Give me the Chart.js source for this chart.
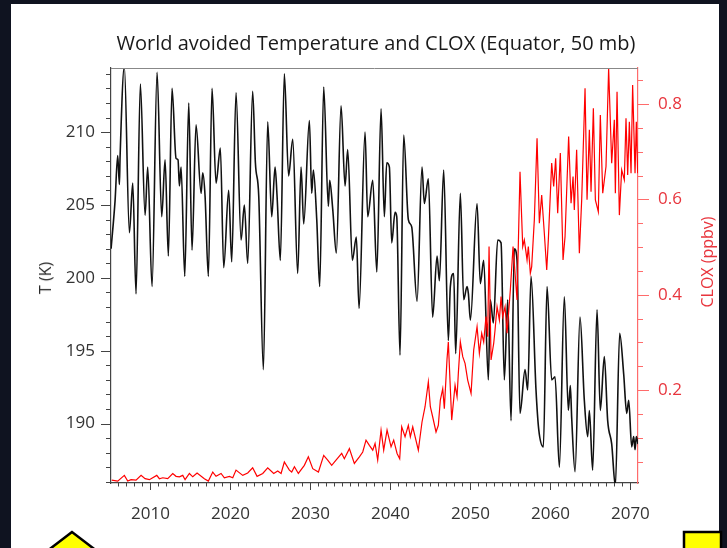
<!DOCTYPE html>
<html>
<head>
<meta charset="utf-8">
<title>World avoided Temperature and CLOX</title>
<script src="https://cdn.jsdelivr.net/npm/chart.js"></script>
<style>
  html, body { margin: 0; padding: 0; background: #0f1320; }
  #wrap { position: relative; width: 727px; height: 548px; overflow: hidden; }
  #panel { position: absolute; left: 11px; top: 4px; width: 708px; height: 560px; background: #fff; }
  #chart { position: absolute; left: 0; top: 0; }
  .txt { position: absolute; font-family: "Open Sans", sans-serif; white-space: nowrap; }
  #title { left: 0; width: 752px; top: 29px; text-align: center; font-size: 20px; color: #1a1a1a; }
  #ylab { left: 45px; top: 278px; font-size: 16px; color: #2a2a2a; transform: translate(-50%, -50%) rotate(-90deg); }
  #y1lab { left: 707px; top: 262px; font-size: 16px; color: #e8353d; transform: translate(-50%, -50%) rotate(-90deg); }
  svg { position: absolute; left: 0; top: 0; }
</style>
</head>
<body>
<div id="wrap">
  <div id="panel"></div>
  <canvas id="chart" width="727" height="548"></canvas>
  <div class="txt" id="title">World avoided Temperature and CLOX (Equator, 50 mb)</div>
  <div class="txt" id="ylab">T (K)</div>
  <div class="txt" id="y1lab">CLOX (ppbv)</div>
  <svg width="727" height="548">
    <polygon points="72,532 38,558 106,558" fill="#ffff00" stroke="#000" stroke-width="2.5"/>
    <rect x="684" y="532" width="37" height="30" fill="#ffff00" stroke="#000" stroke-width="2.5"/>
  </svg>
</div>
<script>
// temperature at turning points (year, K)
const tempYears = [2005.08, 2005.58, 2005.91, 2006.12, 2006.2, 2006.74, 2007.37, 2007.79, 2008.2, 2008.74,
  2009.33, 2009.66, 2010.2, 2010.83, 2011.41, 2011.83, 2012.24, 2012.7, 2013.2, 2013.45,
  2013.62, 2013.83, 2014.29, 2014.79, 2015.2, 2015.7, 2016.33, 2016.54, 2016.83, 2017.24,
  2017.7, 2018.2, 2018.74, 2019.16, 2019.78, 2020.16, 2020.7, 2021.33, 2021.74, 2022.16,
  2022.78, 2023.12, 2023.54, 2024.12, 2024.66, 2025.16, 2025.58, 2025.83, 2026.24, 2026.74,
  2027.27, 2027.79, 2028.41, 2028.83, 2029.16, 2029.87, 2030.16, 2030.37, 2030.79, 2031.16,
  2031.66, 2032.24, 2032.41, 2032.79, 2033.24, 2033.83, 2034.33, 2034.66, 2035.24, 2035.74,
  2036.08, 2036.83, 2037.16, 2037.79, 2038.3, 2038.83, 2039.24, 2039.54, 2039.87, 2040.16,
  2040.58, 2040.79, 2041.2, 2041.66, 2042.24, 2042.66, 2043.33, 2043.95, 2044.24, 2044.74,
  2045.28, 2045.83, 2046.12, 2046.66, 2047.24, 2047.49, 2047.91, 2048.16, 2048.74, 2049.16,
  2049.58, 2049.75, 2050.0, 2050.83, 2051.24, 2051.66, 2052.24, 2052.49, 2052.87, 2053.41,
  2053.83, 2054.24, 2054.66, 2055.08, 2055.49, 2055.83, 2056.2, 2056.83, 2057.16, 2057.58,
  2058.2, 2058.54, 2059.12, 2059.58, 2060.16, 2060.58, 2061.12, 2061.74, 2062.24, 2062.49,
  2062.66, 2063.08, 2063.7, 2064.24, 2064.66, 2064.87, 2065.28, 2065.83, 2066.24, 2066.74,
  2067.16, 2067.66, 2068.12, 2068.66, 2069.16, 2069.54, 2069.79, 2070.16, 2070.41, 2070.58,
  2070.74, 2070.95];
const tempValues = [202.0, 205.3, 208.4, 206.4, 208.2, 214.5, 203.1, 206.5, 198.9, 213.3,
  204.3, 207.6, 199.4, 214.1, 204.2, 208.1, 201.5, 213.0, 208.2, 208.1,
  206.3, 207.6, 200.1, 212.0, 201.9, 210.5, 205.8, 207.2, 205.6, 200.1,
  213.0, 206.5, 208.9, 200.7, 206.0, 201.1, 212.7, 202.6, 205.0, 201.0,
  212.8, 207.9, 205.6, 193.7, 210.7, 204.2, 207.6, 205.6, 201.2, 214.0,
  207.0, 209.5, 200.3, 207.6, 203.7, 210.8, 205.8, 207.4, 204.0, 199.4,
  213.1, 204.9, 206.7, 204.7, 201.7, 211.8, 206.3, 208.8, 201.2, 202.8,
  197.9, 210.0, 204.2, 206.7, 200.4, 211.6, 204.2, 207.9, 207.6, 202.4,
  204.5, 204.2, 194.7, 209.8, 204.0, 203.5, 198.4, 207.6, 205.1, 206.8,
  197.3, 201.5, 199.8, 207.4, 195.7, 199.4, 200.3, 194.8, 205.8, 198.5,
  199.4, 198.9, 197.1, 205.1, 199.6, 201.2, 193.0, 198.5, 196.9, 202.6,
  202.4, 193.0, 198.5, 190.2, 202.0, 201.2, 190.7, 193.7, 192.3, 200.1,
  192.3, 189.6, 188.4, 199.4, 193.0, 193.2, 187.0, 198.7, 190.9, 192.6,
  190.4, 186.7, 197.3, 191.6, 189.1, 190.9, 186.8, 197.8, 190.9, 194.6,
  190.2, 188.6, 185.7, 196.2, 193.4, 190.7, 191.6, 188.4, 189.1, 188.2,
  189.1, 188.6];

// CLOX mixing ratio (year, ppbv)
const cloxYears = [2005.16, 2005.91, 2006.74, 2007.16, 2007.58, 2008.2, 2008.83, 2009.33, 2009.87, 2010.79,
  2011.12, 2011.54, 2012.16, 2012.79, 2013.2, 2013.62, 2014.04, 2014.33, 2014.87, 2015.29,
  2015.83, 2016.74, 2017.24, 2017.79, 2018.2, 2018.83, 2019.24, 2019.87, 2020.29, 2020.7,
  2021.54, 2022.16, 2022.78, 2023.33, 2024.04, 2024.66, 2025.41, 2025.91, 2026.33, 2026.74,
  2027.37, 2027.66, 2028.0, 2028.49, 2029.24, 2029.74, 2030.29, 2031.0, 2031.66, 2032.16,
  2032.66, 2033.2, 2033.91, 2034.24, 2034.87, 2035.49, 2036.12, 2036.54, 2036.95, 2037.37,
  2037.79, 2038.08, 2038.41, 2038.83, 2039.16, 2039.58, 2040.08, 2040.41, 2040.83, 2041.16,
  2041.41, 2041.83, 2042.24, 2042.49, 2042.79, 2043.49, 2043.95, 2044.33, 2044.74, 2044.99,
  2045.28, 2045.7, 2045.99, 2046.24, 2046.54, 2046.74, 2047.08, 2047.24, 2047.66, 2048.08,
  2048.33, 2048.49, 2048.74, 2049.04, 2049.33, 2049.66, 2050.08, 2050.41, 2050.83, 2051.12,
  2051.41, 2051.66, 2051.95, 2052.16, 2052.33, 2052.58, 2052.91, 2053.08, 2053.33, 2053.62,
  2053.83, 2054.04, 2054.33, 2054.58, 2054.99, 2055.33, 2055.83, 2056.2, 2056.54, 2056.74,
  2057.08, 2057.24, 2057.49, 2057.66, 2057.99, 2058.33, 2058.62, 2058.91, 2059.24, 2059.54,
  2059.74, 2060.16, 2060.41, 2060.66, 2060.91, 2061.24, 2061.58, 2061.83, 2062.28, 2062.58,
  2062.83, 2062.99, 2063.28, 2063.62, 2063.91, 2064.33, 2064.58, 2064.87, 2065.08, 2065.37,
  2065.62, 2065.99, 2066.24, 2066.54, 2066.95, 2067.28, 2067.66, 2067.99, 2068.12, 2068.33,
  2068.62, 2068.91, 2069.24, 2069.45, 2069.66, 2069.87, 2070.08, 2070.28, 2070.58, 2070.74,
  2070.91];
const cloxValues = [0.011, 0.009, 0.021, 0.009, 0.012, 0.011, 0.021, 0.014, 0.012, 0.021,
  0.014, 0.016, 0.014, 0.025, 0.019, 0.018, 0.021, 0.012, 0.025, 0.018,
  0.026, 0.014, 0.009, 0.028, 0.019, 0.025, 0.016, 0.019, 0.016, 0.032,
  0.021, 0.026, 0.037, 0.019, 0.025, 0.037, 0.025, 0.030, 0.025, 0.049,
  0.032, 0.028, 0.039, 0.025, 0.042, 0.060, 0.035, 0.028, 0.063, 0.053,
  0.042, 0.053, 0.067, 0.056, 0.077, 0.046, 0.060, 0.070, 0.095, 0.084,
  0.074, 0.088, 0.053, 0.116, 0.074, 0.116, 0.081, 0.095, 0.067, 0.056,
  0.123, 0.102, 0.126, 0.102, 0.123, 0.074, 0.133, 0.165, 0.217, 0.165,
  0.144, 0.112, 0.126, 0.179, 0.203, 0.161, 0.266, 0.301, 0.137, 0.210,
  0.186, 0.235, 0.301, 0.270, 0.256, 0.221, 0.193, 0.284, 0.333, 0.277,
  0.319, 0.301, 0.354, 0.312, 0.501, 0.263, 0.298, 0.326, 0.375, 0.347,
  0.396, 0.354, 0.375, 0.319, 0.410, 0.501, 0.389, 0.658, 0.501, 0.515,
  0.473, 0.501, 0.445, 0.459, 0.557, 0.728, 0.550, 0.609, 0.529, 0.452,
  0.515, 0.676, 0.627, 0.686, 0.571, 0.697, 0.473, 0.522, 0.732, 0.592,
  0.648, 0.578, 0.704, 0.487, 0.599, 0.833, 0.599, 0.746, 0.616, 0.791,
  0.599, 0.574, 0.777, 0.613, 0.669, 0.875, 0.676, 0.767, 0.613, 0.826,
  0.567, 0.662, 0.641, 0.770, 0.651, 0.763, 0.655, 0.840, 0.655, 0.763,
  0.655];

const tempTicks = [190, 195, 200, 205, 210];
const cloxTicks = [0.2, 0.4, 0.6, 0.8];
const yearTicks = [2010, 2020, 2030, 2040, 2050, 2060, 2070];

const tempPoints = tempYears.map((x, i) => ({ x: x, y: tempValues[i] }));
const cloxPoints = cloxYears.map((x, i) => ({ x: x, y: cloxValues[i] }));

const tickFont = { family: "Open Sans", size: 17 };

// outward major/minor tick marks plus the grey frame line on top
const tickMarks = {
  id: 'tickMarks',
  afterDraw(chart) {
    const ctx = chart.ctx;
    const { x, y, y1 } = chart.scales;
    const area = chart.chartArea;
    ctx.save();
    ctx.lineWidth = 1;
    ctx.strokeStyle = '#888';
    ctx.beginPath();
    ctx.moveTo(area.left, area.top + 0.5);
    ctx.lineTo(area.right, area.top + 0.5);
    ctx.stroke();

    ctx.strokeStyle = '#444';
    ctx.beginPath();
    for (let v = 2006; v <= 2070; v++) {
      const px = Math.round(x.getPixelForValue(v)) + 0.5;
      const len = v % 10 === 0 ? 7 : 3.5;
      ctx.moveTo(px, area.bottom);
      ctx.lineTo(px, area.bottom + len);
    }
    for (let v = 186; v <= 214; v++) {
      const py = Math.round(y.getPixelForValue(v)) + 0.5;
      const len = v % 5 === 0 ? 10 : 5;
      ctx.moveTo(area.left, py);
      ctx.lineTo(area.left - len, py);
    }
    ctx.stroke();

    ctx.strokeStyle = '#ff6b6b';
    ctx.beginPath();
    for (let k = 1; k <= 17; k++) {
      const v = k * 0.05;
      const py = Math.round(y1.getPixelForValue(v)) + 0.5;
      const len = k % 4 === 0 ? 11 : 5;
      ctx.moveTo(area.right, py);
      ctx.lineTo(area.right + len, py);
    }
    ctx.stroke();
    ctx.restore();
  }
};

new Chart(document.getElementById('chart'), {
  type: 'line',
  data: {
    datasets: [
      {
        label: 'CLOX', data: cloxPoints, yAxisID: 'y1',
        borderColor: '#ff0000', borderWidth: 1.2, pointRadius: 0, tension: 0
      },
      {
        label: 'T', data: tempPoints, yAxisID: 'y',
        borderColor: '#111', borderWidth: 1.6, pointRadius: 0,
        cubicInterpolationMode: 'monotone'
      }
    ]
  },
  options: {
    responsive: false,
    animation: false,
    devicePixelRatio: 1,
    layout: { padding: { top: 68, left: 0, right: 0, bottom: 0 } },
    plugins: { legend: { display: false }, tooltip: { enabled: false } },
    scales: {
      x: {
        type: 'linear', position: 'bottom', min: 2005.07, max: 2070.95,
        grid: { display: false, drawTicks: false },
        border: { display: true, color: '#444', width: 1.2 },
        afterFit: (s) => { s.height = 65; },
        afterBuildTicks: (s) => { s.ticks = yearTicks.map(v => ({ value: v })); },
        ticks: { font: tickFont, color: '#333', padding: 21, maxRotation: 0, callback: (v) => String(v) }
      },
      y: {
        type: 'linear', position: 'left', min: 185.92, max: 214.4,
        grid: { display: false, drawTicks: false },
        border: { display: true, color: '#444', width: 1.2 },
        afterFit: (s) => { s.width = 111; },
        afterBuildTicks: (s) => { s.ticks = tempTicks.map(v => ({ value: v })); },
        ticks: { font: tickFont, color: '#333', padding: 16, callback: (v) => String(v) }
      },
      y1: {
        type: 'linear', position: 'right', min: 0.005, max: 0.8756,
        grid: { display: false, drawTicks: false },
        border: { display: true, color: '#ff6b6b', width: 1.2 },
        afterFit: (s) => { s.width = 89; },
        afterBuildTicks: (s) => { s.ticks = cloxTicks.map(v => ({ value: v })); },
        ticks: { font: tickFont, color: '#e8353d', padding: 20, callback: (v) => v.toFixed(1) }
      }
    }
  },
  plugins: [tickMarks]
});
</script>
</body>
</html>
